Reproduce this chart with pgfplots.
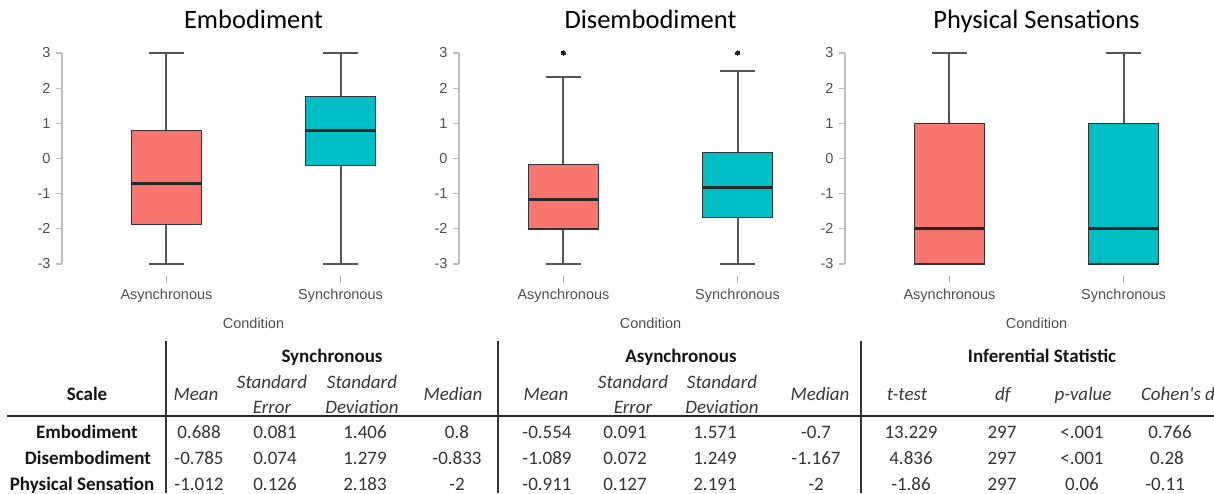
\documentclass[border=0pt]{standalone}
\usepackage{fontspec}
\setmainfont{Liberation Sans}
\newfontfamily\calib{Carlito}
\usepackage{pgfplots}
\pgfplotsset{compat=1.18}
\usepgfplotslibrary{statistics}
\definecolor{salmon}{HTML}{F8766D}
\definecolor{tealc}{HTML}{00BFC4}
\definecolor{axgray}{HTML}{BDBDBD}
\definecolor{txtgray}{HTML}{4D4D4D}
\definecolor{whisk}{HTML}{555555}
\definecolor{boxline}{HTML}{333333}
\pgfplotsset{
 panel/.style={
  width=383pt, height=211pt, scale only axis,
  anchor=south west,
  xmin=0.4, xmax=2.6, ymin=-3, ymax=3,
  clip=false,
  axis lines*=left, axis line style={-},
  x axis line style={draw=white},
  y axis line style={draw=axgray, line width=1.2pt},
  tick align=outside,
  major tick length=6pt,
  ytick={-3,-2,-1,0,1,2,3}, yticklabels={-3,-2,-1,0,1,2,3},
  ytick style={draw=axgray, line width=1.2pt},
  xtick={1,2}, xticklabels={Asynchronous,Synchronous},
  xtick style={draw=gray!70, line width=1pt, yshift=-12pt},
  ticklabel style={font=\fontsize{14.5}{17}\selectfont, text=txtgray},
  yticklabel style={xshift=-2pt},
  xticklabel style={anchor=base, yshift=-29pt},
  xlabel={Condition},
  xlabel style={at={(axis description cs:0.5,0)}, anchor=base, yshift=-64pt, font=\fontsize{14.5}{17}\selectfont, text=txtgray},
  title style={at={(axis description cs:0.5,1)}, anchor=base, yshift=19pt, font=\calib\fontsize{26.5}{30}\selectfont, inner sep=0pt},
  boxplot/draw direction=y,
  boxplot/box extend=0.4,
  boxplot/whisker extend=0.2,
 },
 bp/.style={draw=whisk, line width=2pt,
   boxplot/every median/.style={draw=black!85, line width=3.2pt},
   boxplot/every whisker/.style={draw=whisk, line width=2pt},
   boxplot/every box/.style={draw=boxline, fill=#1, line width=1.4pt}},
 outl/.style={mark=*, mark size=2.1pt, mark options={draw=black!85, fill=black!85, line width=0pt}},
}
\begin{document}
\begin{tikzpicture}
\path[use as bounding box] (0,0) rectangle (1214pt,493pt);
\clip (0,0) rectangle (1214pt,493pt);
% ---- Panel 1: Embodiment
\begin{axis}[panel, at={(62pt,229pt)}, title={Embodiment}]
\addplot[bp=salmon, boxplot prepared={draw position=1, lower whisker=-3, lower quartile=-1.88, median=-0.7, upper quartile=0.8, upper whisker=3}] coordinates {};
\addplot[bp=tealc, boxplot prepared={draw position=2, lower whisker=-3, lower quartile=-0.2, median=0.8, upper quartile=1.77, upper whisker=3}] coordinates {};
\end{axis}
% ---- Panel 2: Disembodiment
\begin{axis}[panel, at={(459pt,229pt)}, title={Disembodiment}]
\addplot[bp=salmon, outl, boxplot prepared={draw position=1, lower whisker=-3, lower quartile=-2, median=-1.167, upper quartile=-0.17, upper whisker=2.33}] coordinates {(0,3)};
\addplot[bp=tealc, outl, boxplot prepared={draw position=2, lower whisker=-3, lower quartile=-1.67, median=-0.833, upper quartile=0.17, upper whisker=2.5}] coordinates {(0,3)};
\end{axis}
% ---- Panel 3: Physical Sensations
\begin{axis}[panel, at={(845pt,229pt)}, title={Physical Sensations}]
\addplot[bp=salmon, boxplot prepared={draw position=1, lower whisker=-3, lower quartile=-3, median=-2, upper quartile=1, upper whisker=3}] coordinates {};
\addplot[bp=tealc, boxplot prepared={draw position=2, lower whisker=-3, lower quartile=-3, median=-2, upper quartile=1, upper whisker=3}] coordinates {};
\end{axis}
% ---- Table
\begin{scope}[shift={(0,493pt)}, x=1pt, y=-1pt,
  tb/.style={anchor=base, inner sep=0pt, font=\calib\fontsize{19}{22}\selectfont\bfseries, text=black!92},
  ti/.style={anchor=base, inner sep=0pt, font=\calib\fontsize{19}{22}\selectfont\itshape, text=black!78},
  tn/.style={anchor=base, inner sep=0pt, font=\calib\fontsize{19}{22}\selectfont, text=black!80}]
\draw[line width=1.8pt, black!85] (7,416) -- (1214,416);
\draw[line width=1.3pt, black!80] (166,341) -- (166,493);
\draw[line width=1.3pt, black!80] (498,341) -- (498,493);
\draw[line width=1.3pt, black!80] (861,341) -- (861,493);
% group headers
\node[tb] at (332,362) {Synchronous};
\node[tb] at (681,362) {Asynchronous};
\node[tb] at (1042,362) {Inferential Statistic};
\node[tb] at (87,400) {Scale};
% sub headers sync
\node[ti] at (196,400) {Mean};
\node[ti] at (272,388) {Standard};
\node[ti] at (272,413) {Error};
\node[ti] at (362,388) {Standard};
\node[ti] at (362,413) {Deviation};
\node[ti] at (453,400) {Median};
% sub headers async
\node[ti] at (546,400) {Mean};
\node[ti] at (633,388) {Standard};
\node[ti] at (633,413) {Error};
\node[ti] at (722,388) {Standard};
\node[ti] at (722,413) {Deviation};
\node[ti] at (820,400) {Median};
% inferential headers
\node[ti] at (907,400) {t-test};
\node[ti] at (1003,400) {df};
\node[ti] at (1083,400) {p-value};
\node[ti] at (1178,400) {Cohen's d};
% rows
\node[tb] at (87,438) {Embodiment};
\node[tb] at (88,464) {Disembodiment};
\node[tb] at (82,490) {Physical Sensation};
% row 1
\node[tn] at (199,438) {0.688};
\node[tn] at (275,438) {0.081};
\node[tn] at (365,438) {1.406};
\node[tn] at (457,438) {0.8};
\node[tn] at (547,438) {-0.554};
\node[tn] at (625,438) {0.091};
\node[tn] at (715,438) {1.571};
\node[tn] at (816,438) {-0.7};
\node[tn] at (911,438) {13.229};
\node[tn] at (1002,438) {297};
\node[tn] at (1082,438) {<.001};
\node[tn] at (1170,438) {0.766};
% row 2
\node[tn] at (199,464) {-0.785};
\node[tn] at (275,464) {0.074};
\node[tn] at (365,464) {1.279};
\node[tn] at (457,464) {-0.833};
\node[tn] at (547,464) {-1.089};
\node[tn] at (625,464) {0.072};
\node[tn] at (715,464) {1.249};
\node[tn] at (816,464) {-1.167};
\node[tn] at (911,464) {4.836};
\node[tn] at (1002,464) {297};
\node[tn] at (1082,464) {<.001};
\node[tn] at (1167,464) {0.28};
% row 3
\node[tn] at (199,490) {-1.012};
\node[tn] at (275,490) {0.126};
\node[tn] at (365,490) {2.183};
\node[tn] at (457,490) {-2};
\node[tn] at (547,490) {-0.911};
\node[tn] at (625,490) {0.127};
\node[tn] at (715,490) {2.191};
\node[tn] at (816,490) {-2};
\node[tn] at (911,490) {-1.86};
\node[tn] at (1002,490) {297};
\node[tn] at (1082,490) {0.06};
\node[tn] at (1165,490) {-0.11};
\end{scope}
\end{tikzpicture}
\end{document}
